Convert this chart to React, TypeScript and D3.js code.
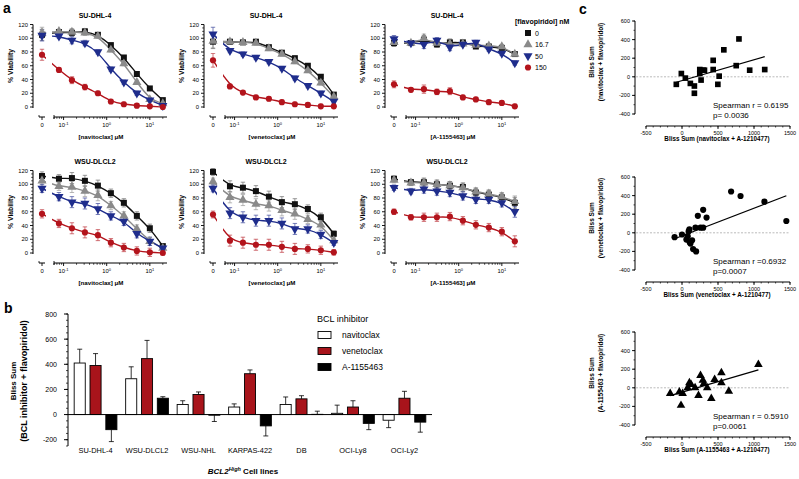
import React from 'react';
import * as d3 from 'd3';

// ---------- Panel a data ----------
const concentrations = [0.078125, 0.15625, 0.3125, 0.625, 1.25, 2.5, 5, 10, 20];
const flavoDoses = ['0', '16.7', '50', '150'];
const drugs = ['navitoclax', 'venetoclax', 'A-1155463'];
const cellLinesA = ['SU-DHL-4', 'WSU-DLCL2'];

// first value = no BCL inhibitor ("0"), then the 9 concentrations
const suNav0 = [105, 109, 108, 110, 105, 90, 72, 48, 27, 10];
const suNav16 = [108, 110, 109, 108, 103, 83, 63, 36, 11, 5];
const suNav50 = [104, 103, 97, 93, 80, 55, 36, 20, 10, 2];
const suNav150 = [76, 54, 39, 29, 20, 8, 4, 2, 1, 0];
const errSuNav = [8, 3, 5, 4, 3, 3, 3, 3, 2, 2];

const suVen0 = [95, 95, 94, 95, 87, 79, 71, 60, 44, 18];
const suVen16 = [96, 95, 94, 93, 85, 77, 66, 53, 35, 15];
const suVen50 = [106, 82, 77, 72, 66, 56, 42, 31, 20, 8];
const suVen150 = [68, 30, 21, 14, 12, 7, 4, 3, 1, 1];
const errSuVen = [10, 3, 3, 3, 3, 3, 3, 3, 3, 3];

const suA0 = [93, 93, 98, 91, 94, 94, 88, 88, 86, 77];
const suA16 = [94, 93, 100, 93, 92, 92, 90, 89, 88, 77];
const suA50 = [99, 93, 91, 97, 87, 91, 94, 84, 78, 64];
const suA150 = [33, 25, 26, 22, 23, 14, 11, 7, 6, 1];
const errSuA = [5, 3, 6, 4, 5, 3, 3, 3, 3, 3];

const wsNav0 = [112, 108, 109, 105, 98, 87, 73, 54, 36, 10];
const wsNav16 = [105, 97, 96, 90, 84, 69, 54, 35, 17, 7];
const wsNav50 = [94, 82, 74, 72, 64, 54, 46, 28, 17, 7];
const wsNav150 = [57, 43, 36, 30, 26, 15, 8, 3, 1, 0];
const errWsNav = [6, 6, 8, 8, 8, 6, 6, 6, 6, 3];

const wsVen0 = [118, 97, 95, 90, 82, 74, 71, 64, 52, 28];
const wsVen16 = [104, 81, 77, 71, 69, 62, 57, 49, 41, 18];
const wsVen50 = [94, 58, 52, 47, 47, 43, 35, 35, 27, 15];
const wsVen150 = [56, 18, 15, 12, 12, 9, 6, 6, 4, 1];
const errWsVen = [5, 8, 8, 8, 8, 8, 8, 6, 6, 4];

const wsA0 = [108, 103, 103, 100, 98, 96, 88, 85, 81, 73];
const wsA16 = [106, 102, 102, 100, 98, 95, 89, 86, 82, 75];
const wsA50 = [95, 90, 93, 90, 88, 83, 78, 78, 73, 60];
const wsA150 = [60, 52, 52, 52, 53, 47, 41, 37, 31, 17];
const errWsA = [4, 4, 6, 6, 6, 6, 6, 6, 6, 8];

// ---------- Panel b data ----------
const cellLinesB = ['SU-DHL-4', 'WSU-DLCL2', 'WSU-NHL', 'KARPAS-422', 'DB', 'OCI-Ly8', 'OCI-Ly2'];
const blissNavitoclax = [410, 285, 80, 60, 80, 10, -45];
const blissVenetoclax = [390, 445, 160, 325, 125, 60, 130];
const blissA1155463 = [-120, 130, -5, -90, 2, -70, -60];
const errNavitoclax = [110, 95, 30, 25, 60, 65, 59];
const errVenetoclax = [95, 145, 20, 30, 25, 50, 55];
const errA1155463 = [95, 12, 50, 80, 25, 50, 80];
const yTicksB = [-200, 0, 200, 400, 600, 800];

// ---------- Panel c data ----------
const navX = [-79, -9, 47, 116, 172, 172, 247, 247, 265, 293, 312, 433, 433, 498, 516, 581, 791, 753, 940, 1149];
const navY = [-81, 35, -14, -71, -99, -177, 78, 35, -35, 71, 71, 177, 78, -81, 7, 290, 407, 120, 71, 78];
const venX = [-103, 0, 61, 79, 93, 103, 107, 117, 140, 154, 196, 187, 220, 257, 294, 294, 341, 682, 813, 1145, 1449];
const venY = [-47, -18, -73, -36, 18, 36, -102, -116, -80, -175, -200, 55, 182, 55, 247, 55, 164, 444, 396, 335, 127];
const a115X = [-164, -37, 9, -14, 79, 103, 126, 182, 229, 257, 290, 304, 350, 407, 453, 547, 547, 650, 1061];
const a115Y = [-61, -46, -61, -189, 0, 54, 36, 0, -82, 132, 82, 46, 0, -114, 89, 161, 54, -36, 250];
const spearmanR = ['Spearman r = 0.6195', 'Spearman r =0.6932', 'Spearman r = 0.5910'];
const spearmanP = ['p= 0.0036', 'p=0.0007', 'p=0.0061'];
const yTicksC = [-400, -200, 0, 200, 400, 600];
const xTicksC = [-500, 0, 500, 1000, 1500];

// ---------- styling ----------
const FONT = 'Liberation Sans, Arial, Helvetica, sans-serif';
const COLORS = ['#111111', '#8a8a8a', '#1f2d8c', '#b3141c'];
const BAR_FILLS = ['#ffffff', '#a8141b', '#000000'];

const panelsA = [
  { cell: cellLinesA[0], drug: drugs[0], series: [suNav0, suNav16, suNav50, suNav150], err: errSuNav },
  { cell: cellLinesA[0], drug: drugs[1], series: [suVen0, suVen16, suVen50, suVen150], err: errSuVen },
  { cell: cellLinesA[0], drug: drugs[2], series: [suA0, suA16, suA50, suA150], err: errSuA },
  { cell: cellLinesA[1], drug: drugs[0], series: [wsNav0, wsNav16, wsNav50, wsNav150], err: errWsNav },
  { cell: cellLinesA[1], drug: drugs[1], series: [wsVen0, wsVen16, wsVen50, wsVen150], err: errWsVen },
  { cell: cellLinesA[1], drug: drugs[2], series: [wsA0, wsA16, wsA50, wsA150], err: errWsA },
];
const colX0 = [33, 204, 385];
const rowBase = [107, 253];

const symbolTypes = [d3.symbolSquare, d3.symbolTriangle, d3.symbolTriangle, d3.symbolCircle];
function markerPath(i: number, size = 36) {
  return d3.symbol().type(symbolTypes[i]).size(i === 3 ? 30 : size)() as string;
}
function markerTransform(i: number, x: number, y: number) {
  return i === 2 ? `translate(${x},${y}) rotate(180)` : `translate(${x},${y})`;
}

function ViabilityPanel({ x0, yBase, cell, drug, series, err }: any) {
  const x = d3.scaleLog().domain([0.06, 25]).range([x0 + 21, x0 + 134]);
  const zeroX = x0 + 9;
  const y = d3.scaleLinear().domain([0, 120]).range([yBase, yBase - 82.5]);
  const px = (i: number) => (i === 0 ? zeroX : x(concentrations[i - 1]));
  const axisY = yBase + 10;
  const clipId = `clip-${x0}-${yBase}`;
  const line = d3
    .line<number>()
    .x((_d, i) => px(i))
    .y((d) => y(d))
    .curve(d3.curveBasis);
  const allTicks = x.ticks();
  const majors = allTicks.filter((t) => Math.abs(Math.log10(t) - Math.round(Math.log10(t))) < 1e-9);
  const minors = allTicks.filter((t) => !majors.includes(t));
  const yMajor = y.ticks(6);
  const yMinor = y.ticks(24).filter((t) => !yMajor.includes(t));
  return (
    <g fontFamily={FONT}>
      <defs>
        <clipPath id={clipId}>
          <rect x={x0} y={yBase - 95} width={zeroX + 4 - x0} height={110} />
          <rect x={x0 + 19} y={yBase - 95} width={125} height={110} />
        </clipPath>
      </defs>
      <text x={x0 + 62} y={yBase - 89} textAnchor="middle" fontSize={7} fontWeight="bold">{cell}</text>
      {/* y axis */}
      <line x1={x0} x2={x0} y1={y(120)} y2={yBase + 1} stroke="#000" strokeWidth={1} />
      {yMajor.map((t) => (
        <g key={'ym' + t}>
          <line x1={x0 - 3} x2={x0} y1={y(t)} y2={y(t)} stroke="#000" strokeWidth={0.9} />
          <text x={x0 - 5} y={y(t) + 2} textAnchor="end" fontSize={5.8}>{t}</text>
        </g>
      ))}
      {yMinor.map((t) => (
        <line key={'yn' + t} x1={x0 - 1.8} x2={x0} y1={y(t)} y2={y(t)} stroke="#000" strokeWidth={0.7} />
      ))}
      <text transform={`translate(${x0 - 20},${yBase - 41}) rotate(-90)`} textAnchor="middle" fontSize={6.8} fontWeight="bold">% Viability</text>
      {/* x axis broken */}
      <line x1={zeroX - 3} x2={zeroX + 3} y1={axisY} y2={axisY} stroke="#000" strokeWidth={1} />
      <line x1={zeroX - 3} x2={zeroX - 3} y1={axisY - 2} y2={axisY} stroke="#000" strokeWidth={0.8} />
      <line x1={zeroX} x2={zeroX} y1={axisY} y2={axisY + 3} stroke="#000" strokeWidth={0.9} />
      <text x={zeroX} y={axisY + 10} textAnchor="middle" fontSize={5.8}>0</text>
      <line x1={x.range()[0]} x2={x.range()[1]} y1={axisY} y2={axisY} stroke="#000" strokeWidth={1} />
      <line x1={x.range()[0]} x2={x.range()[0]} y1={axisY - 2} y2={axisY + 2} stroke="#000" strokeWidth={0.9} />
      {minors.map((t) => (
        <line key={'xn' + t} x1={x(t)} x2={x(t)} y1={axisY} y2={axisY + 1.8} stroke="#000" strokeWidth={0.7} />
      ))}
      {majors.map((t) => (
        <g key={'xm' + t}>
          <line x1={x(t)} x2={x(t)} y1={axisY} y2={axisY + 3} stroke="#000" strokeWidth={0.9} />
          <text x={x(t)} y={axisY + 10} textAnchor="middle" fontSize={5.8}>
            10<tspan dy={-2.5} fontSize={4}>{Math.round(Math.log10(t))}</tspan>
          </text>
        </g>
      ))}
      <text x={x0 + 68} y={yBase + 32} textAnchor="middle" fontSize={6.2} fontWeight="bold">[{drug}] μM</text>
      {/* curves */}
      <g clipPath={`url(#${clipId})`}>
        {series.map((s: number[], si: number) => (
          <path key={'c' + si} d={line(s) as string} fill="none" stroke={COLORS[si]} strokeWidth={1.4} />
        ))}
      </g>
      {/* error bars */}
      {series.map((s: number[], si: number) => (
        <g key={'e' + si} stroke={si === 0 ? '#555' : COLORS[si]} strokeWidth={0.7} opacity={0.85}>
          {s.map((v, i) => (
            <g key={i}>
              <line x1={px(i)} x2={px(i)} y1={y(v - err[i])} y2={y(v + err[i])} />
              <line x1={px(i) - 2.2} x2={px(i) + 2.2} y1={y(v + err[i])} y2={y(v + err[i])} />
              <line x1={px(i) - 2.2} x2={px(i) + 2.2} y1={y(v - err[i])} y2={y(v - err[i])} />
            </g>
          ))}
        </g>
      ))}
      {/* markers */}
      {series.map((s: number[], si: number) => (
        <g key={'m' + si} fill={COLORS[si]}>
          {s.map((v, i) => (
            <path key={i} d={markerPath(si)} transform={markerTransform(si, px(i), y(v))} />
          ))}
        </g>
      ))}
    </g>
  );
}

function LegendA() {
  return (
    <g fontFamily={FONT}>
      <text x={515} y={24} fontSize={7} fontWeight="bold">[flavopiridol] nM</text>
      {flavoDoses.map((d, i) => (
        <g key={d}>
          <path d={markerPath(i)} transform={markerTransform(i, 528, 33 + 11.5 * i)} fill={COLORS[i]} />
          <text x={535} y={33 + 11.5 * i + 2.5} fontSize={7}>{d}</text>
        </g>
      ))}
    </g>
  );
}

function PanelB() {
  const y = d3.scaleLinear().domain([-250, 800]).range([446, 314]);
  const x = d3.scaleBand().domain(cellLinesB).range([68, 432]).paddingInner(0.17).paddingOuter(0.12);
  const xs = d3.scaleBand().domain(drugs).range([0, x.bandwidth()]).paddingInner(0.3);
  const values = [blissNavitoclax, blissVenetoclax, blissA1155463];
  const errs = [errNavitoclax, errVenetoclax, errA1155463];
  const minor = d3.range(-250, 801, 50);
  return (
    <g fontFamily={FONT}>
      <text x={4} y={313} fontSize={14} fontWeight="bold">b</text>
      {/* y axis */}
      <line x1={68} x2={68} y1={y(800)} y2={y(-250)} stroke="#000" strokeWidth={1} />
      {minor.map((t) => (
        <line key={'mn' + t} x1={66} x2={68} y1={y(t)} y2={y(t)} stroke="#000" strokeWidth={0.7} />
      ))}
      {yTicksB.map((t) => (
        <g key={t}>
          <line x1={64} x2={68} y1={y(t)} y2={y(t)} stroke="#000" strokeWidth={1} />
          <text x={57} y={y(t) + 2.5} textAnchor="end" fontSize={7}>{t}</text>
        </g>
      ))}
      <text transform={`translate(16,381) rotate(-90)`} textAnchor="middle" fontSize={8} fontWeight="bold">Bliss Sum</text>
      <text transform={`translate(27,381) rotate(-90)`} textAnchor="middle" fontSize={9} fontWeight="bold">(BCL inhibitor + flavopiridol)</text>
      {/* bars */}
      {cellLinesB.map((c, ci) => (
        <g key={c}>
          {values.map((vals, si) => {
            const v = vals[ci];
            const e = errs[si][ci];
            const bx = (x(c) as number) + (xs(drugs[si]) as number);
            const bw = xs.bandwidth();
            const top = Math.min(y(v), y(0));
            const h = Math.abs(y(v) - y(0));
            const tip = v >= 0 ? v + e : v - e;
            const cx = bx + bw / 2;
            return (
              <g key={si}>
                <line x1={cx} x2={cx} y1={y(v)} y2={y(tip)} stroke="#000" strokeWidth={0.8} />
                <line x1={cx - 2.5} x2={cx + 2.5} y1={y(tip)} y2={y(tip)} stroke="#000" strokeWidth={0.8} />
                <rect x={bx} y={top} width={bw} height={h} fill={BAR_FILLS[si]} stroke="#000" strokeWidth={0.9} />
              </g>
            );
          })}
          <text x={(x(c) as number) + x.bandwidth() / 2} y={453} textAnchor="middle" fontSize={7.4}>{c}</text>
        </g>
      ))}
      {/* x axis line */}
      <line x1={68} x2={432} y1={y(0)} y2={y(0)} stroke="#000" strokeWidth={1} />
      <text x={243} y={474} textAnchor="middle" fontSize={8} fontWeight="bold">
        <tspan fontStyle="italic">BCL2</tspan>
        <tspan fontStyle="italic" fontSize={5.5} dy={-3}>High</tspan>
        <tspan dy={3}> Cell lines</tspan>
      </text>
      {/* legend */}
      <text x={317} y={322} fontSize={9}>BCL inhibitor</text>
      {drugs.map((d, i) => (
        <g key={d}>
          <rect x={318} y={335 + 16 * i - 3.5} width={13} height={7} fill={BAR_FILLS[i]} stroke="#000" strokeWidth={0.9} />
          <text x={342} y={335 + 16 * i + 3} fontSize={8.5}>{d}</text>
        </g>
      ))}
    </g>
  );
}

function ScatterC({ idx, xs, ys, off, drug, symbol }: any) {
  const x = d3.scaleLinear().domain([-500, 1500]).range([646, 790]);
  const y = d3.scaleLinear().domain([-400, 600]).range([114 + off, 21 + off]);
  const mx = d3.mean(xs) as number;
  const my = d3.mean(ys) as number;
  const sxy = d3.sum(xs, (v: number, i: number) => (v - mx) * (ys[i] - my));
  const sxx = d3.sum(xs, (v: number) => (v - mx) * (v - mx));
  const slope = sxy / sxx;
  const icpt = my - slope * mx;
  const [xmin, xmax] = d3.extent(xs) as [number, number];
  const axY = 126 + off;
  const yMinor = d3.range(-400, 601, 100);
  const xMinor = d3.range(-500, 1501, 100);
  const sym = d3.symbol().type(symbol).size(symbol === d3.symbolCircle ? 30 : 32)() as string;
  return (
    <g fontFamily={FONT}>
      {/* y axis */}
      <line x1={635} x2={635} y1={y(600)} y2={y(-400)} stroke="#000" strokeWidth={1} />
      {yMinor.map((t) => (
        <line key={'yn' + t} x1={633.5} x2={635} y1={y(t)} y2={y(t)} stroke="#000" strokeWidth={0.7} />
      ))}
      {yTicksC.map((t) => (
        <g key={t}>
          <line x1={632} x2={635} y1={y(t)} y2={y(t)} stroke="#000" strokeWidth={0.9} />
          <text x={630} y={y(t) + 2} textAnchor="end" fontSize={5.5}>{t}</text>
        </g>
      ))}
      <text transform={`translate(594,${62 + off}) rotate(-90)`} textAnchor="middle" fontSize={6.5} fontWeight="bold">Bliss Sum</text>
      <text transform={`translate(603,${62 + off}) rotate(-90)`} textAnchor="middle" fontSize={6.5} fontWeight="bold">({drug} + flavopiridol)</text>
      {/* x axis */}
      <line x1={x(-500)} x2={x(1500)} y1={axY} y2={axY} stroke="#000" strokeWidth={1} />
      {xMinor.map((t) => (
        <line key={'xn' + t} x1={x(t)} x2={x(t)} y1={axY} y2={axY + 1.5} stroke="#000" strokeWidth={0.7} />
      ))}
      {xTicksC.map((t) => (
        <g key={t}>
          <line x1={x(t)} x2={x(t)} y1={axY} y2={axY + 3} stroke="#000" strokeWidth={0.9} />
          <text x={x(t)} y={axY + 9} textAnchor="middle" fontSize={5.5}>{t}</text>
        </g>
      ))}
      <text x={717} y={axY + 15} textAnchor="middle" fontSize={6.3} fontWeight="bold">Bliss Sum ({drug} + A-1210477)</text>
      {/* zero dashed */}
      <line x1={636} x2={x(1500)} y1={y(0)} y2={y(0)} stroke="#aaa" strokeWidth={0.8} strokeDasharray="2,1.5" />
      {/* regression */}
      <line x1={x(xmin)} x2={x(xmax)} y1={y(slope * xmin + icpt)} y2={y(slope * xmax + icpt)} stroke="#000" strokeWidth={1.2} />
      {xs.map((v: number, i: number) => (
        <path key={i} d={sym} transform={`translate(${x(v)},${y(ys[i])})`} fill="#000" />
      ))}
      <text x={713} y={108 + off} fontSize={8}>{spearmanR[idx]}</text>
      <text x={713} y={117.5 + off} fontSize={8}>{spearmanP[idx]}</text>
    </g>
  );
}

export default function App() {
  return (
    <svg width={799} height={479} style={{ position: 'absolute', left: 0, top: 0, background: '#fff' }}>
      <rect width={799} height={479} fill="#fff" />
      <text x={3} y={13} fontSize={14} fontWeight="bold" fontFamily={FONT}>a</text>
      <text x={579} y={14} fontSize={14} fontWeight="bold" fontFamily={FONT}>c</text>
      {panelsA.map((p, i) => (
        <ViabilityPanel key={i} x0={colX0[i % 3]} yBase={rowBase[Math.floor(i / 3)]} {...p} />
      ))}
      <LegendA />
      <PanelB />
      <ScatterC idx={0} xs={navX} ys={navY} off={0} drug={drugs[0]} symbol={d3.symbolSquare} />
      <ScatterC idx={1} xs={venX} ys={venY} off={156} drug={drugs[1]} symbol={d3.symbolCircle} />
      <ScatterC idx={2} xs={a115X} ys={a115Y} off={311} drug={drugs[2]} symbol={d3.symbolTriangle} />
    </svg>
  );
}
